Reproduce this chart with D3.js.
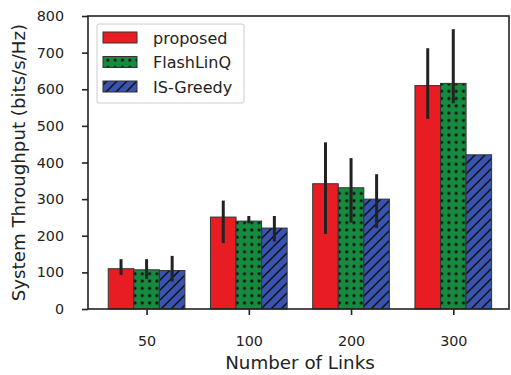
<!DOCTYPE html>
<html>
<head>
<meta charset="utf-8">
<script src="https://cdn.jsdelivr.net/npm/d3@7"></script>
<style>
  body { margin: 0; background: #fff; }
  text { font-family: "DejaVu Sans", sans-serif; fill: #222; }
</style>
</head>
<body>
<div id="chart"></div>
<script>
// chart values
var groups = ["50", "100", "200", "300"];
var seriesNames = ["proposed", "FlashLinQ", "IS-Greedy"];
var proposed = [110, 251, 342, 610];
var flashlinq = [107, 240, 331, 616];
var isGreedy = [105, 221, 300, 421];
// error bar ends (low, high)
var proposedLow = [93, 180, 205, 519];
var proposedHigh = [136, 296, 455, 712];
var flashLow = [82, 234, 236, 562];
var flashHigh = [136, 254, 412, 764];
var greedyLow = [75, 184, 221, null];
var greedyHigh = [145, 254, 368, null];
var yTicks = [0, 100, 200, 300, 400, 500, 600, 700, 800];

var width = 511, height = 375;
var plotLeft = 88, plotRight = 509, plotTop = 16, plotBottom = 309;

var svg = d3.select("#chart").append("svg")
  .attr("width", width)
  .attr("height", height);

var defs = svg.append("defs");

// dotted pattern for FlashLinQ
var dots = defs.append("pattern")
  .attr("id", "dots")
  .attr("patternUnits", "userSpaceOnUse")
  .attr("width", 7.3).attr("height", 7.3);
dots.append("rect").attr("width", 7.3).attr("height", 7.3).attr("fill", "#168a3e");
dots.append("circle").attr("cx", 3.6).attr("cy", 3.6).attr("r", 1.6).attr("fill", "#111");

// hatch pattern for IS-Greedy
var hatch = defs.append("pattern")
  .attr("id", "hatch")
  .attr("patternUnits", "userSpaceOnUse")
  .attr("width", 10).attr("height", 10);
hatch.append("rect").attr("width", 10).attr("height", 10).attr("fill", "#3953b0");
hatch.append("path")
  .attr("d", "M-2,2 L2,-2 M0,10 L10,0 M8,12 L12,8")
  .attr("stroke", "#111").attr("stroke-width", 1.5);

var fills = ["#e81c23", "url(#dots)", "url(#hatch)"];
var values = [proposed, flashlinq, isGreedy];
var lows = [proposedLow, flashLow, greedyLow];
var highs = [proposedHigh, flashHigh, greedyHigh];

var x = d3.scaleLinear().domain([-0.573, 3.545]).range([plotLeft, plotRight]);
var y = d3.scaleLinear().domain([0, 800]).range([plotBottom, plotTop]);
var barW = 0.25;

// bars
values.forEach(function(vals, s) {
  svg.append("g").selectAll("rect")
    .data(vals)
    .enter()
    .append("rect")
    .attr("x", function(d, i) { return x(i + (s - 1) * barW - barW / 2); })
    .attr("y", function(d) { return y(d); })
    .attr("width", x(barW) - x(0))
    .attr("height", function(d) { return y(0) - y(d); })
    .attr("fill", fills[s])
    .attr("stroke", "#333")
    .attr("stroke-width", 1);
});

// error bars
values.forEach(function(vals, s) {
  svg.append("g").selectAll("line")
    .data(vals.map(function(d, i) { return { i: i, lo: lows[s][i], hi: highs[s][i] }; })
      .filter(function(d) { return d.lo !== null; }))
    .enter()
    .append("line")
    .attr("x1", function(d) { return x(d.i + (s - 1) * barW); })
    .attr("x2", function(d) { return x(d.i + (s - 1) * barW); })
    .attr("y1", function(d) { return y(d.lo); })
    .attr("y2", function(d) { return y(d.hi); })
    .attr("stroke", "#222")
    .attr("stroke-width", 3);
});

// axes
var xAxis = d3.axisBottom(x)
  .tickValues([0, 1, 2, 3])
  .tickFormat(function(d) { return groups[d]; })
  .tickSize(6).tickPadding(21);
var yAxis = d3.axisLeft(y)
  .tickValues(yTicks)
  .tickSize(6).tickPadding(18);

var gx = svg.append("g")
  .attr("transform", "translate(0," + plotBottom + ")")
  .call(xAxis);
var gy = svg.append("g")
  .attr("transform", "translate(" + plotLeft + ",0)")
  .call(yAxis);

[gx, gy].forEach(function(g) {
  g.select(".domain").remove();
  g.selectAll("line").attr("stroke", "#222").attr("stroke-width", 1.6);
  g.selectAll("text").attr("font-size", 14.3).attr("fill", "#222")
    .style("font-family", "DejaVu Sans, sans-serif");
});

// frame
svg.append("rect")
  .attr("x", plotLeft).attr("y", plotTop)
  .attr("width", plotRight - plotLeft).attr("height", plotBottom - plotTop)
  .attr("fill", "none")
  .attr("stroke", "#222")
  .attr("stroke-width", 1.6);

// axis labels
svg.append("text")
  .attr("x", 300)
  .attr("y", 369)
  .attr("text-anchor", "middle")
  .attr("font-size", 18.3)
  .text("Number of Links");

svg.append("text")
  .attr("transform", "translate(25," + (plotTop + plotBottom) / 2 + ")rotate(-90)")
  .attr("text-anchor", "middle")
  .attr("font-size", 18.2)
  .text("System Throughput (bits/s/Hz)");

// legend
var legend = svg.append("g").attr("transform", "translate(97,24)");
legend.append("rect")
  .attr("width", 147).attr("height", 79)
  .attr("rx", 2)
  .attr("fill", "#fff")
  .attr("stroke", "#ccc");

seriesNames.forEach(function(name, s) {
  var row = legend.append("g").attr("transform", "translate(0," + (8 + s * 24.5) + ")");
  row.append("rect")
    .attr("x", 6).attr("y", 0)
    .attr("width", 34).attr("height", 11)
    .attr("fill", fills[s])
    .attr("stroke", "#333");
  row.append("text")
    .attr("x", 56).attr("y", 11.5)
    .attr("font-size", 16)
    .text(name);
});
</script>
</body>
</html>
